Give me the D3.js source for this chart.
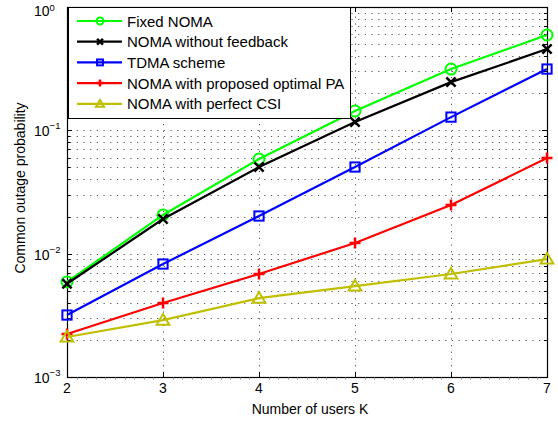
<!DOCTYPE html>
<html>
<head>
<meta charset="utf-8">
<script src="https://cdn.jsdelivr.net/npm/d3@7"></script>
<style>
  html, body { margin: 0; padding: 0; background: #fff; }
  svg { display: block; font-family: "Liberation Sans", Arial, Helvetica, sans-serif; }
</style>
</head>
<body>
<svg id="chart" width="558" height="424"></svg>
<script>
// Number of users K
const users = [2, 3, 4, 5, 6, 7];

// Common outage probability per scheme
const fixedNoma      = [0.0059, 0.0206, 0.0585, 0.1435, 0.314, 0.593];
const nomaNoFeedback = [0.0057, 0.0191, 0.0504, 0.1167, 0.246, 0.456];
const tdmaScheme     = [0.00318, 0.00824, 0.0202, 0.0504, 0.128, 0.314];
const nomaOptimalPA  = [0.00223, 0.00398, 0.00684, 0.0122, 0.0248, 0.0596];
const nomaPerfectCSI = [0.00211, 0.00289, 0.00436, 0.00546, 0.00684, 0.00904];

const seriesNames = [
  "Fixed NOMA",
  "NOMA without feedback",
  "TDMA scheme",
  "NOMA with proposed optimal PA",
  "NOMA with perfect CSI"
];

const xTicks = [2, 3, 4, 5, 6, 7];
const yDecades = [-3, -2, -1, 0];

const series = [
  { name: seriesNames[0], values: fixedNoma,      color: "#00ff00", marker: "circle" },
  { name: seriesNames[1], values: nomaNoFeedback, color: "#000000", marker: "cross" },
  { name: seriesNames[2], values: tdmaScheme,     color: "#0000ff", marker: "square" },
  { name: seriesNames[3], values: nomaOptimalPA,  color: "#ff0000", marker: "plus" },
  { name: seriesNames[4], values: nomaPerfectCSI, color: "#bfbf00", marker: "triangle" }
];

const plot = { left: 67, right: 547, top: 7, bottom: 377 };
const svg = d3.select("#chart");

const x = d3.scaleLinear().domain([2, 7]).range([plot.left, plot.right]);
const y = d3.scaleLog().domain([1e-3, 1]).range([plot.bottom, plot.top]);

// Log grid values: majors and the 2..9 minors of each decade
const minorY = [];
for (let e = -3; e < 0; e++) {
  for (let m = 2; m <= 9; m++) minorY.push(m * Math.pow(10, e));
}
const majorY = yDecades.map(e => Math.pow(10, e));

const gridStyle = g => g
  .attr("stroke", "#555").attr("stroke-width", 1)
  .attr("stroke-dasharray", "1.2,5.5");

const grid = svg.append("g").attr("class", "grid");
grid.selectAll("line.hy")
  .data(minorY.concat(majorY.slice(1, -1)))
  .join("line")
  .attr("x1", plot.left + 3).attr("x2", plot.right)
  .attr("y1", d => Math.round(y(d)) + 0.5).attr("y2", d => Math.round(y(d)) + 0.5)
  .call(gridStyle);
grid.selectAll("line.vx")
  .data(xTicks.slice(1, -1))
  .join("line")
  .attr("y1", plot.top + 3).attr("y2", plot.bottom)
  .attr("x1", d => Math.round(x(d)) + 0.5).attr("x2", d => Math.round(x(d)) + 0.5)
  .call(gridStyle);

// Axes box
svg.append("rect")
  .attr("x", plot.left + 0.5).attr("y", plot.top + 0.5)
  .attr("width", plot.right - plot.left).attr("height", plot.bottom - plot.top)
  .attr("fill", "none").attr("stroke", "#000").attr("stroke-width", 1.2);

// Inward ticks on all four sides
const ticks = svg.append("g").attr("stroke", "#000").attr("stroke-width", 1);
majorY.forEach(v => {
  const yy = Math.round(y(v)) + 0.5;
  ticks.append("line").attr("x1", plot.left).attr("x2", plot.left + 5).attr("y1", yy).attr("y2", yy);
  ticks.append("line").attr("x1", plot.right).attr("x2", plot.right - 5).attr("y1", yy).attr("y2", yy);
});
minorY.forEach(v => {
  const yy = Math.round(y(v)) + 0.5;
  ticks.append("line").attr("x1", plot.left).attr("x2", plot.left + 3).attr("y1", yy).attr("y2", yy);
  ticks.append("line").attr("x1", plot.right).attr("x2", plot.right - 3).attr("y1", yy).attr("y2", yy);
});
xTicks.forEach(v => {
  const xx = Math.round(x(v)) + 0.5;
  ticks.append("line").attr("y1", plot.bottom).attr("y2", plot.bottom - 5).attr("x1", xx).attr("x2", xx);
  ticks.append("line").attr("y1", plot.top).attr("y2", plot.top + 5).attr("x1", xx).attr("x2", xx);
});
const minorX = d3.range(20, 71).map(d => d / 10).filter(d => Math.abs(d - Math.round(d)) > 1e-6);
minorX.forEach(v => {
  const xx = Math.round(x(v)) + 0.5;
  ticks.append("line").attr("y1", plot.bottom + 0.5).attr("y2", plot.bottom + 2.5)
    .attr("x1", xx).attr("x2", xx).attr("stroke", "#999");
});

// Tick labels
svg.append("g").selectAll("text")
  .data(xTicks).join("text")
  .attr("x", d => x(d)).attr("y", plot.bottom + 16)
  .attr("text-anchor", "middle")
  .attr("font-size", 14)
  .text(d => d);

const yLab = svg.append("g");
yDecades.forEach(e => {
  const t = yLab.append("text")
    .attr("x", 34).attr("y", y(Math.pow(10, e)) + (e === 0 ? 9 : 6))
    .attr("font-size", 14);
  t.append("tspan").text("10");
  t.append("tspan").attr("dy", e === 0 ? -5.5 : -7).attr("font-size", 9.5)
    .text(e === 0 ? "0" : "\u2212" + (-e));
});

// Axis titles
svg.append("text")
  .attr("x", (plot.left + plot.right) / 2 + 3).attr("y", plot.bottom + 37)
  .attr("text-anchor", "middle").attr("font-size", 14)
  .text("Number of users K");
svg.append("text")
  .attr("transform", `translate(25,${(plot.top + plot.bottom) / 2 - 4}) rotate(-90)`)
  .attr("text-anchor", "middle").attr("font-size", 14)
  .text("Common outage probability");

// Marker drawing
function drawMarker(g, type, color, s) {
  if (type === "circle") {
    g.append("circle").attr("r", s * 0.5).attr("fill", "none").attr("stroke", color).attr("stroke-width", 2);
  } else if (type === "square") {
    const h = s * 0.42;
    g.append("rect").attr("x", -h).attr("y", -h).attr("width", 2 * h).attr("height", 2 * h)
      .attr("fill", "none").attr("stroke", color).attr("stroke-width", 2);
  } else if (type === "cross") {
    const h = s * 0.42;
    g.append("path").attr("d", `M${-h},${-h}L${h},${h}M${-h},${h}L${h},${-h}`)
      .attr("stroke", color).attr("stroke-width", 2.5);
  } else if (type === "plus") {
    const h = s * 0.5;
    g.append("path").attr("d", `M${-h},0L${h},0M0,${-h}L0,${h}`)
      .attr("stroke", color).attr("stroke-width", 2.5);
  } else if (type === "triangle") {
    const h = s * 0.55;
    g.append("path").attr("d", `M0,${-h}L${h * 1.05},${h * 0.75}L${-h * 1.05},${h * 0.75}Z`)
      .attr("fill", "none").attr("stroke", color).attr("stroke-width", 2);
  }
}

const line = d3.line().x((d, i) => x(users[i])).y(d => y(d));
const lines = svg.append("g");
series.forEach(s => {
  lines.append("path")
    .attr("d", line(s.values))
    .attr("fill", "none").attr("stroke", s.color).attr("stroke-width", 2.2);
  s.values.forEach((v, i) => {
    const g = lines.append("g").attr("transform", `translate(${x(users[i])},${y(v)})`);
    drawMarker(g, s.marker, s.color, 11);
  });
});

// Legend
const legend = svg.append("g");
legend.append("rect")
  .attr("x", plot.left + 1.5).attr("y", plot.top + 0.5)
  .attr("width", 282).attr("height", 111)
  .attr("fill", "#fff").attr("stroke", "#000").attr("stroke-width", 1);
series.forEach((s, i) => {
  const yy = 21 + i * 20.7;
  const g = legend.append("g");
  g.append("line").attr("x1", 77).attr("x2", 122).attr("y1", yy).attr("y2", yy)
    .attr("stroke", s.color).attr("stroke-width", 2.2);
  const m = g.append("g").attr("transform", `translate(100,${yy})`);
  drawMarker(m, s.marker, s.color, 7);
  g.append("text").attr("x", 127).attr("y", yy + 5.5)
    .attr("font-size", 15).text(s.name);
});
</script>
</body>
</html>
